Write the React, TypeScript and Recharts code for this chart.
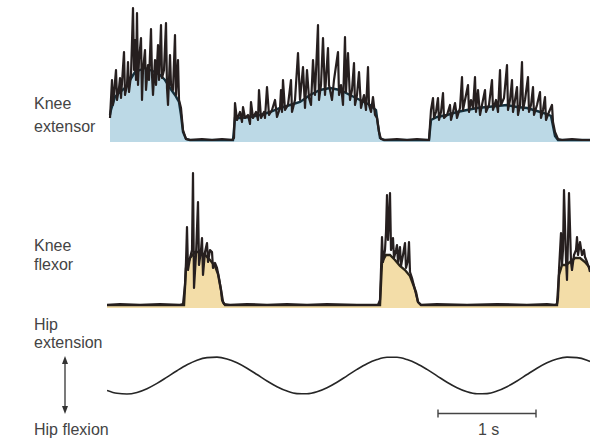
import { ComposedChart, Area, Line, XAxis, YAxis, ReferenceLine } from "recharts";

// time is in samples (98 samples = 1 s), amplitudes in arbitrary units
const SAMPLES_PER_SECOND = 98;
const TRACE_LENGTH = 483;

type Pt = [number, number];

// knee extensor EMG: smoothed envelope (filled) and raw trace
const extensorEnvelope: Pt[] = [
  [3, 27], [4, 32], [8, 45], [13, 50], [18, 54], [23, 62], [28, 70], [33, 72], [38, 74], [43, 72],
  [48, 70], [53, 67], [58, 62], [63, 54], [68, 47], [72, 40], [74, 27], [76, 10], [79, 3], [83, 2],
  [126, 2], [128, 24], [133, 24], [143, 25], [153, 27], [163, 30], [173, 34], [183, 37], [193, 40],
  [203, 47], [213, 52], [223, 54], [233, 52], [243, 47], [253, 42], [263, 37], [269, 32], [271, 17],
  [273, 4], [277, 2], [322, 2], [324, 22], [330, 25], [340, 27], [350, 30], [360, 32], [370, 34],
  [380, 35], [390, 36], [400, 37], [410, 35], [420, 34], [430, 31], [440, 28], [444, 26], [446, 16],
  [448, 6], [451, 2], [483, 2],
];

const extensorTrace: Pt[] = [
  [3, 24], [5, 62], [6, 37], [9, 72], [10, 42], [12, 54], [13, 64], [14, 44], [17, 90], [18, 47],
  [20, 57], [21, 80], [22, 50], [24, 67], [26, 134], [27, 72], [28, 102], [29, 62], [30, 129], [31, 57],
  [32, 82], [34, 104], [35, 42], [36, 72], [38, 92], [39, 52], [41, 77], [42, 62], [44, 113], [45, 67],
  [46, 47], [48, 82], [49, 57], [51, 97], [52, 62], [54, 117], [55, 64], [57, 72], [59, 119], [60, 54],
  [61, 37], [63, 87], [64, 57], [66, 52], [68, 107], [69, 47], [71, 82], [72, 42], [74, 34], [76, 12],
  [79, 3], [83, 2], [95, 3], [105, 2], [115, 3], [125, 2],
  [127, 4], [128, 39], [130, 22], [133, 30], [135, 20], [136, 35], [138, 24], [141, 27], [143, 18],
  [144, 40], [146, 24], [149, 30], [151, 22], [152, 52], [154, 24], [157, 30], [158, 24], [160, 55],
  [162, 27], [165, 32], [168, 42], [170, 25], [173, 34], [174, 52], [175, 30], [176, 62], [178, 32],
  [181, 37], [184, 62], [185, 30], [188, 42], [191, 89], [193, 42], [196, 75], [198, 34], [200, 72],
  [202, 44], [204, 37], [206, 82], [208, 47], [211, 117], [212, 42], [214, 57], [216, 104], [218, 47],
  [221, 94], [222, 57], [225, 42], [227, 62], [231, 90], [232, 47], [234, 57], [236, 37], [238, 105],
  [239, 50], [241, 89], [243, 42], [245, 52], [247, 79], [248, 37], [250, 47], [252, 70], [254, 34],
  [257, 47], [259, 32], [261, 75], [262, 37], [264, 30], [266, 45], [268, 27], [270, 24], [272, 10],
  [274, 3], [278, 2], [290, 3], [300, 2], [310, 3], [321, 2],
  [322, 2], [323, 17], [324, 32], [326, 44], [327, 24], [329, 30], [331, 44], [332, 22], [334, 30],
  [336, 49], [337, 24], [340, 27], [343, 37], [344, 22], [346, 30], [348, 39], [350, 24], [353, 34],
  [355, 65], [356, 32], [358, 42], [361, 57], [362, 30], [364, 42], [366, 34], [368, 65], [369, 30],
  [371, 52], [373, 27], [375, 37], [378, 52], [379, 30], [382, 37], [385, 62], [386, 32], [389, 42],
  [391, 30], [393, 72], [394, 37], [397, 44], [400, 77], [401, 32], [403, 42], [405, 62], [406, 30],
  [408, 42], [410, 55], [411, 27], [413, 37], [415, 80], [416, 32], [418, 42], [421, 65], [422, 30],
  [424, 37], [426, 55], [427, 27], [430, 37], [433, 50], [434, 24], [436, 32], [438, 45], [439, 22],
  [442, 30], [445, 37], [446, 20], [448, 10], [451, 3], [455, 2], [465, 3], [475, 2], [483, 2],
];

// knee flexor EMG
const flexorEnvelope: Pt[] = [
  [0, 3], [77, 3], [79, 40], [83, 50], [88, 56], [93, 56], [98, 53], [103, 48], [108, 42], [111, 34],
  [114, 18], [116, 6], [118, 3], [273, 3], [275, 46], [279, 53], [283, 53], [288, 48], [293, 42],
  [298, 38], [303, 32], [306, 24], [309, 16], [311, 6], [314, 3], [450, 3], [452, 33], [455, 43],
  [459, 43], [463, 46], [468, 50], [473, 50], [478, 46], [483, 40],
];

const flexorTrace: Pt[] = [
  [0, 3], [13, 4], [33, 3], [53, 4], [73, 3], [76, 4], [78, 23], [79, 46], [80, 81], [81, 38],
  [83, 50], [85, 58], [86, 135], [87, 20], [89, 53], [91, 106], [92, 43], [94, 58], [95, 70], [96, 33],
  [98, 56], [100, 65], [101, 46], [103, 58], [105, 56], [106, 40], [108, 45], [110, 40], [112, 30],
  [114, 18], [115, 8], [117, 4], [123, 3], [140, 4], [160, 3], [180, 4], [200, 3], [220, 4], [250, 3],
  [271, 3], [273, 8], [274, 38], [275, 71], [276, 46], [278, 58], [279, 76], [280, 113], [281, 68],
  [282, 88], [283, 115], [284, 58], [286, 70], [287, 50], [289, 58], [290, 63], [291, 46], [293, 61],
  [294, 42], [296, 53], [298, 65], [299, 40], [301, 48], [302, 66], [303, 36], [305, 30], [307, 22],
  [309, 14], [311, 6], [314, 3], [330, 4], [360, 3], [390, 4], [420, 3], [440, 4], [448, 3],
  [450, 4], [451, 10], [452, 38], [454, 75], [455, 43], [456, 58], [457, 118], [459, 48], [460, 28],
  [461, 68], [462, 115], [464, 46], [465, 38], [467, 53], [469, 58], [470, 71], [471, 53], [473, 66],
  [475, 53], [477, 58], [478, 51], [480, 46], [482, 40], [483, 36],
];

// hip angle (extension positive), sampled every 10 samples
const hipTimes = [
  0, 10, 20, 30, 40, 50, 60, 70, 80, 90, 100, 110, 120, 130, 140, 150, 160, 170, 180, 190, 200, 210,
  220, 230, 240, 250, 260, 270, 280, 290, 300, 310, 320, 330, 340, 350, 360, 370, 380, 390, 400, 410,
  420, 430, 440, 450, 460, 470, 480, 483,
];
const hipAngle = [
  -14.9, -17.8, -18.5, -16.9, -13.2, -7.9, -1.6, 4.8, 10.7, 15.3, 17.9, 18.4, 16.6, 12.7, 7.3, 1.0,
  -5.5, -11.2, -15.6, -18.1, -18.3, -16.3, -12.2, -6.7, -0.3, 6.1, 11.8, 15.9, 18.2, 18.2, 15.9, 11.8,
  6.1, -0.3, -6.7, -12.2, -16.3, -18.3, -18.1, -15.6, -11.2, -5.5, 1.0, 7.3, 12.7, 16.6, 18.4, 17.9,
  15.3, 14.1,
];

const scaleBarStart = 331;
const scaleBarSeconds = 1;
const scaleBarLevel = -38;

function mergeTraces(envelope: Pt[], trace: Pt[]) {
  const rows = new Map<number, { t: number; env?: number; raw?: number }>();
  envelope.forEach(([t, v]) => rows.set(t, { ...(rows.get(t) || { t }), env: v }));
  trace.forEach(([t, v]) => rows.set(t, { ...(rows.get(t) || { t }), raw: v }));
  return [...rows.values()].sort((a, b) => a.t - b.t);
}

const textStyle = {
  position: "absolute" as const,
  fontFamily: "'Liberation Sans', Arial, sans-serif",
  fontSize: 16,
  color: "#444",
  lineHeight: "18px",
  whiteSpace: "nowrap" as const,
};

function Label({ x, y, children }: { x: number; y: number; children: string }) {
  return <div style={{ ...textStyle, left: x, top: y - 9 }}>{children}</div>;
}

function EmgTrace({ envelope, trace, fill, edge }: { envelope: Pt[]; trace: Pt[]; fill: string; edge: string }) {
  const data = mergeTraces(envelope, trace);
  return (
    <ComposedChart width={TRACE_LENGTH} height={140} data={data} margin={{ top: 0, right: 0, bottom: 0, left: 0 }}>
      <XAxis dataKey="t" type="number" domain={[0, TRACE_LENGTH]} hide />
      <YAxis type="number" domain={[0, 140]} hide allowDataOverflow />
      <Area
        dataKey="env"
        type="linear"
        fill={fill}
        fillOpacity={1}
        stroke={edge}
        strokeWidth={2.4}
        connectNulls
        isAnimationActive={false}
      />
      <Line
        dataKey="raw"
        type="linear"
        stroke="#261f1f"
        strokeWidth={2.2}
        strokeLinejoin="round"
        dot={false}
        activeDot={false}
        connectNulls
        isAnimationActive={false}
      />
    </ComposedChart>
  );
}

export default function App() {
  const hipData = hipTimes.map((t, i) => ({ t, angle: hipAngle[i] }));
  const barEnd = scaleBarStart + scaleBarSeconds * SAMPLES_PER_SECOND;
  return (
    <div style={{ position: "absolute", left: 0, top: 0, width: 592, height: 443, background: "#fff", overflow: "hidden" }}>
      <div style={{ position: "absolute", left: 107, top: 2 }}>
        <EmgTrace envelope={extensorEnvelope} trace={extensorTrace} fill="#bcd9e6" edge="#14303d" />
      </div>
      <div style={{ position: "absolute", left: 107, top: 168 }}>
        <EmgTrace envelope={flexorEnvelope} trace={flexorTrace} fill="#f3dda8" edge="#2a2418" />
      </div>
      <div style={{ position: "absolute", left: 107, top: 330 }}>
        <ComposedChart width={TRACE_LENGTH} height={110} data={hipData} margin={{ top: 0, right: 0, bottom: 0, left: 0 }}>
          <XAxis dataKey="t" type="number" domain={[0, TRACE_LENGTH]} hide />
          <YAxis type="number" domain={[-64.5, 45.5]} hide />
          <Line
            dataKey="angle"
            type="monotone"
            stroke="#262626"
            strokeWidth={1.6}
            dot={false}
            activeDot={false}
            isAnimationActive={false}
          />
          <ReferenceLine
            segment={[{ x: scaleBarStart, y: scaleBarLevel }, { x: barEnd, y: scaleBarLevel }]}
            stroke="#444"
            strokeWidth={1.4}
          />
          <ReferenceLine
            segment={[{ x: scaleBarStart, y: scaleBarLevel - 4 }, { x: scaleBarStart, y: scaleBarLevel + 4 }]}
            stroke="#444"
            strokeWidth={1.4}
          />
          <ReferenceLine
            segment={[{ x: barEnd, y: scaleBarLevel - 4 }, { x: barEnd, y: scaleBarLevel + 4 }]}
            stroke="#444"
            strokeWidth={1.4}
          />
        </ComposedChart>
      </div>
      <svg style={{ position: "absolute", left: 58, top: 355 }} width={14} height={60}>
        <line x1={7} y1={4} x2={7} y2={56} stroke="#333" strokeWidth={1.3} />
        <path d="M7 1 L4 9 L10 9 Z" fill="#333" />
        <path d="M7 59 L4 51 L10 51 Z" fill="#333" />
      </svg>
      <Label x={34} y={104}>Knee</Label>
      <Label x={34} y={127}>extensor</Label>
      <Label x={34} y={246}>Knee</Label>
      <Label x={34} y={265}>flexor</Label>
      <Label x={34} y={325}>Hip</Label>
      <Label x={34} y={343}>extension</Label>
      <Label x={34} y={430}>Hip flexion</Label>
      <Label x={478} y={430}>1 s</Label>
    </div>
  );
}
